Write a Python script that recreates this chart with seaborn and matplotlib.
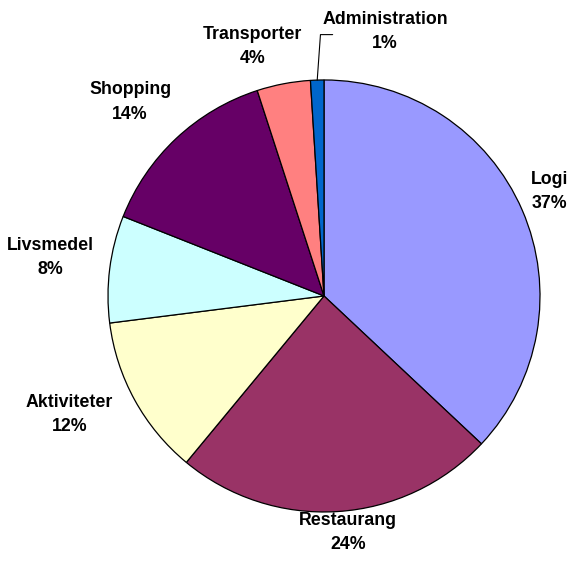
import numpy as np
import matplotlib.pyplot as plt
import seaborn as sns

categories = ['Logi', 'Restaurang', 'Aktiviteter', 'Livsmedel',
              'Shopping', 'Transporter', 'Administration']
shares = [37, 24, 12, 8, 14, 4, 1]
colors = ['#9999FF', '#993366', '#FFFFCC', '#CCFFFF',
          '#660066', '#FF8080', '#0066CC']

# label placement: radial distance (in radii) and angle tweak (degrees)
label_dist = [1.15, 1.10, 1.30, 1.28, 1.27, 1.20, 1.255]
label_turn = [1.4, 2.2, -3.8, -0.8, 1.8, 5.2, -14.8]


def main():
    sns.set_style('white')
    plt.rcParams['font.family'] = ['Liberation Sans', 'DejaVu Sans']

    fig = plt.figure(figsize=(5.68, 5.63), dpi=100)
    ax = fig.add_axes([0, 0, 1, 1])
    wedges, _ = ax.pie(shares, colors=colors, startangle=90, counterclock=False,
                       wedgeprops=dict(edgecolor='black', linewidth=0.9))

    for w, name, val, d, t in zip(wedges, categories, shares, label_dist, label_turn):
        mid = np.deg2rad((w.theta1 + w.theta2) / 2 + t)
        x, y = d * np.cos(mid), d * np.sin(mid)
        ax.text(x, y, f'{name}\n{val}%', ha='center', va='center', color='black',
                fontsize=12.8, fontweight='bold', linespacing=1.55)

    # leader line for the small Administration slice
    adm = wedges[-1]
    a = np.deg2rad((adm.theta1 + adm.theta2) / 2)
    x0, y0 = np.cos(a), np.sin(a)
    ax.plot([x0, x0 + 0.015, 0.04], [y0, 1.21, 1.21], color='black', lw=0.8)

    ax.set_xlim(-1.5, 1.1296)
    ax.set_ylim(-1.236, 1.370)
    ax.set_aspect('equal')
    ax.axis('off')
    fig.savefig('out.png', dpi=100)


main()
